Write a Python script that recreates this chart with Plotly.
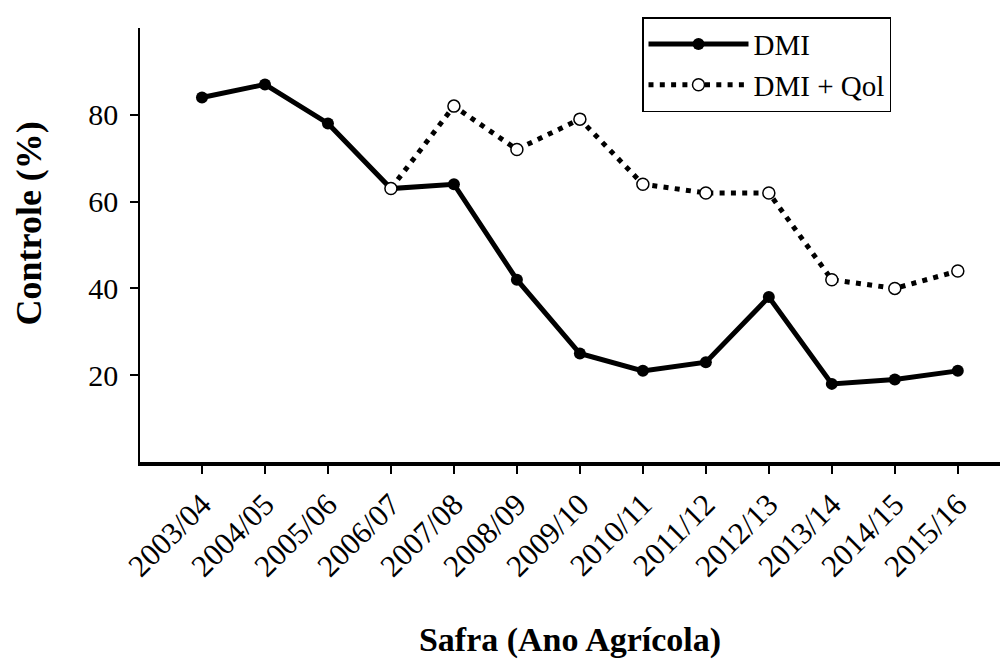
import plotly.graph_objects as go

seasons = ["2003/04", "2004/05", "2005/06", "2006/07", "2007/08", "2008/09", "2009/10",
           "2010/11", "2011/12", "2012/13", "2013/14", "2014/15", "2015/16"]
dmi = [84, 87, 78, 63, 64, 42, 25, 21, 23, 38, 18, 19, 21]
qoi_seasons = seasons[3:]
dmi_qoi = [63, 82, 72, 79, 64, 62, 62, 42, 40, 44]
y_ticks = [20, 40, 60, 80]

FONT = "Liberation Serif, Times New Roman, serif"

x_dmi = list(range(len(seasons)))
x_qoi = [seasons.index(s) for s in qoi_seasons]

fig = go.Figure()
fig.add_trace(go.Scatter(
    x=x_dmi, y=dmi, name="DMI", mode="lines+markers",
    line=dict(color="black", width=5),
    marker=dict(color="black", size=12, symbol="circle"),
))
fig.add_trace(go.Scatter(
    x=x_qoi, y=dmi_qoi, name="DMI + Qol", mode="lines+markers",
    line=dict(color="black", width=5, dash="5px,6.3px"),
    marker=dict(color="white", size=12, symbol="circle",
                line=dict(color="black", width=1.5)),
))

L, T, B = 140, 28, 188
PW, PH = 1000 - L, 659 - T - B

fig.update_layout(
    width=1000, height=659,
    margin=dict(l=L, r=0, t=T, b=B),
    plot_bgcolor="white", paper_bgcolor="white",
    font=dict(family=FONT, color="black", size=30),
    showlegend=True,
    legend=dict(
        x=(642 - L) / PW, y=(659 - B - 17) / PH, xanchor="left", yanchor="top",
        bordercolor="black", borderwidth=1.5, bgcolor="white",
        font=dict(family=FONT, size=29, color="black"),
        itemwidth=100, tracegroupgap=0,
    ),
    xaxis=dict(
        range=[-0.984, 12.67],
        tickmode="array", tickvals=x_dmi, ticktext=seasons,
        tickangle=-45, ticks="outside", ticklen=8, tickwidth=1.5, tickcolor="black",
        showline=True, linecolor="black", linewidth=4,
        showgrid=False, zeroline=False,
        tickfont=dict(family=FONT, size=31),
        title=dict(text="<b>Safra (Ano Agrícola)</b>", font=dict(family=FONT, size=34), standoff=52),
    ),
    yaxis=dict(
        range=[0, 100],
        tickmode="array", tickvals=y_ticks,
        ticks="outside", ticklen=8, tickwidth=1.5, tickcolor="black",
        showline=True, linecolor="black", linewidth=1.5,
        showgrid=False, zeroline=False,
        tickfont=dict(family=FONT, size=30),
        ticklabelstandoff=6,
    ),
    annotations=[dict(
        text="<b>Controle (%)</b>", textangle=-90,
        xref="paper", yref="paper", x=(29 - L) / PW, y=(659 - B - 227.5) / PH,
        xanchor="center", yanchor="middle", showarrow=False,
        font=dict(family=FONT, size=36, color="black"),
    )],
)

fig.write_html("out.html", config={"displayModeBar": False},
               post_script="document.body.style.margin='0px';document.body.style.overflow='hidden';")
